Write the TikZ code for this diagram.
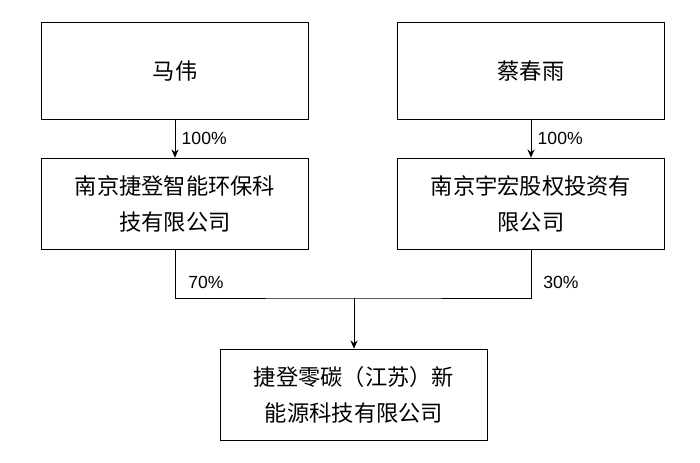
\documentclass[tikz,border=0pt]{standalone}
\usepackage{fontspec}
\setmainfont{Liberation Sans}
\newfontfamily\cjk{Noto Sans CJK SC}
\usetikzlibrary{arrows.meta, positioning}
\tikzset{
  holder/.style={rectangle, draw, line width=0.8pt, minimum width=8cm, minimum height=2.9cm, align=center, font=\cjk\fontsize{19}{30}\selectfont},
  company/.style={rectangle, draw, line width=0.8pt, minimum width=8cm, minimum height=2.75cm, align=center, font=\cjk\fontsize{19}{31}\selectfont},
  arrow/.style={-{Stealth[length=7pt,width=6pt]}, line width=0.8pt},
  link/.style={line width=0.8pt},
  share/.style={font=\fontsize{15}{17}\selectfont}
}
\begin{document}
\begin{tikzpicture}[x=0.03cm, y=-0.03cm]
\useasboundingbox (0,0) rectangle (700,462);

% shareholders
\node[holder] (mawei) at (175,71) {马伟};
\node[holder] (caicy) at (531,71) {蔡春雨};

% holding companies
\node[company] (jiedeng) at (175,204) {南京捷登智能环保科\\技有限公司};
\node[company] (yuhong) at (531,204) {南京宇宏股权投资有\\限公司};

% target
\node[company] (target) at (354,395) {捷登零碳（江苏）新\\能源科技有限公司};

\coordinate (join) at (354,298);

\draw[arrow] (mawei) -- node[share, right=2pt] {100\%} (jiedeng);
\draw[arrow] (caicy) -- node[share, right=2pt] {100\%} (yuhong);

\draw[link] (jiedeng.south) |- (join) -| (yuhong.south);
\node[share] at (206,282) {70\%};
\node[share] at (561,282) {30\%};
\draw[arrow] (join) -- (target);

\end{tikzpicture}
\end{document}
